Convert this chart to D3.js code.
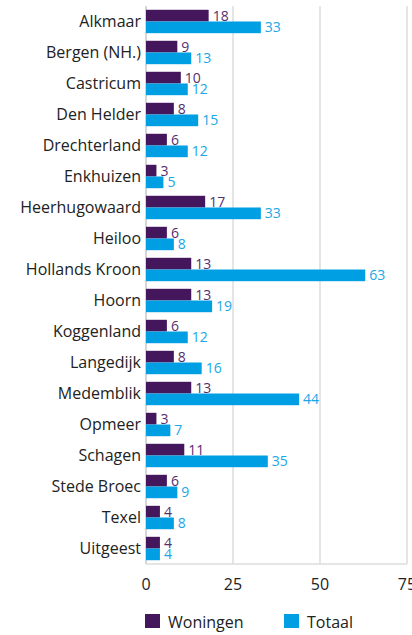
<!DOCTYPE html>
<html>
<head>
<meta charset="utf-8">
<script src="https://cdn.jsdelivr.net/npm/d3@7"></script>
<style>
  body { margin: 0; background: #fff; }
  svg { display: block; font-family: "Open Sans", sans-serif; }
</style>
</head>
<body>
<svg id="canvas" width="412" height="635"></svg>
<script>
// data
var gemeenten = ["Alkmaar", "Bergen (NH.)", "Castricum", "Den Helder", "Drechterland",
  "Enkhuizen", "Heerhugowaard", "Heiloo", "Hollands Kroon", "Hoorn", "Koggenland",
  "Langedijk", "Medemblik", "Opmeer", "Schagen", "Stede Broec", "Texel", "Uitgeest"];
var woningen = [18, 9, 10, 8, 6, 3, 17, 6, 13, 13, 6, 8, 13, 3, 11, 6, 4, 4];
var totaal = [33, 13, 12, 15, 12, 5, 33, 8, 63, 19, 12, 16, 44, 7, 35, 9, 8, 4];
var ticks = [0, 25, 50, 75];
var seriesNames = ["Woningen", "Totaal"];

var purple = "#44175d";
var blue = "#009fe3";

var svg = d3.select("#canvas");
// plot area (note: "top" is taken by window.top)
var plotLeft = 146, plotRight = 407, plotTop = 6, plotBottom = 564;

var x = d3.scaleLinear().domain([0, 75]).range([plotLeft, plotRight]);
var y = d3.scaleBand().domain(gemeenten).range([plotTop, plotBottom]).paddingInner(0.245).paddingOuter(0.122);
var sub = d3.scaleBand().domain(seriesNames).range([0, y.bandwidth()]);

// gridlines
svg.append("g")
  .selectAll("line")
  .data(ticks)
  .enter().append("line")
  .attr("x1", function(d) { return x(d); })
  .attr("x2", function(d) { return x(d); })
  .attr("y1", plotTop)
  .attr("y2", plotBottom)
  .style("stroke", function(d) { return d === 0 ? "#c8c8c8" : "#dcdcdc"; })
  .style("stroke-width", 1.5);

svg.append("line")
  .attr("x1", plotLeft).attr("x2", plotRight)
  .attr("y1", plotBottom).attr("y2", plotBottom)
  .style("stroke", "#dcdcdc")
  .style("stroke-width", 1.5);

// bars
var rows = gemeenten.map(function(g, i) {
  return {name: g, vals: [woningen[i], totaal[i]]};
});

var groups = svg.append("g").selectAll("g")
  .data(rows)
  .enter().append("g")
  .attr("transform", function(d) { return "translate(0," + y(d.name) + ")"; });

var colors = [purple, blue];
var labelColors = ["#55306f", "#1ba6e6"];

groups.each(function(d) {
  var g = d3.select(this);
  d.vals.forEach(function(v, j) {
    g.append("rect")
      .attr("x", x(0))
      .attr("y", sub(seriesNames[j]))
      .attr("width", x(v) - x(0))
      .attr("height", sub.bandwidth())
      .style("fill", colors[j]);
    g.append("text")
      .attr("x", x(v) + 4)
      .attr("y", sub(seriesNames[j]) + sub.bandwidth() / 2)
      .attr("dy", "0.36em")
      .style("font-size", "14px")
      .style("fill", labelColors[j])
      .text(v);
  });
});

// category labels
svg.append("g").selectAll("text")
  .data(gemeenten)
  .enter().append("text")
  .attr("x", plotLeft - 5)
  .attr("y", function(d) { return y(d) + y.bandwidth() / 2; })
  .attr("dy", "0.36em")
  .attr("text-anchor", "end")
  .style("font-size", "16px")
  .style("fill", "#222")
  .text(function(d) { return d; });

// x tick labels
svg.append("g").selectAll("text")
  .data(ticks)
  .enter().append("text")
  .attr("x", function(d) { return x(d); })
  .attr("y", 584)
  .attr("dy", "0.36em")
  .attr("text-anchor", "middle")
  .style("font-size", "16px")
  .style("fill", "#222")
  .text(function(d) { return d; });

// legend
var legendX = [145, 284];
var legend = svg.append("g").selectAll("g")
  .data(seriesNames)
  .enter().append("g")
  .attr("transform", function(d, i) { return "translate(" + legendX[i] + ",614)"; });

legend.append("rect")
  .attr("width", 15).attr("height", 14)
  .style("fill", function(d, i) { return colors[i]; });

legend.append("text")
  .attr("x", 23)
  .attr("y", 8)
  .attr("dy", "0.36em")
  .style("font-size", "16px")
  .style("fill", "#222")
  .text(function(d) { return d; });
</script>
</body>
</html>
